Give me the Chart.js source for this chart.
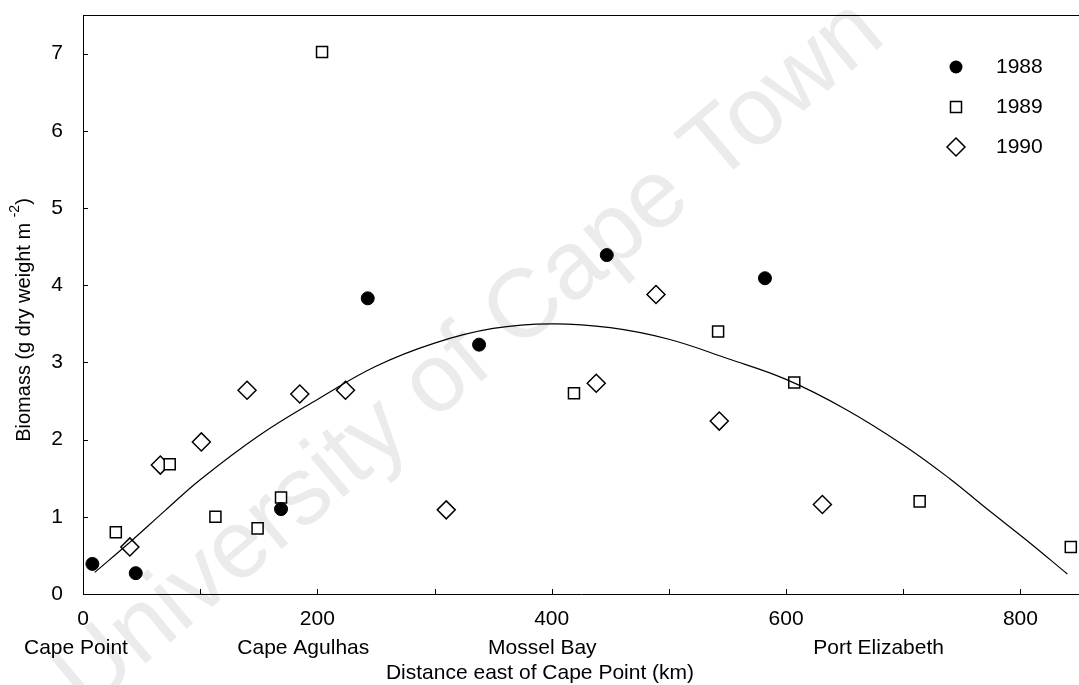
<!DOCTYPE html>
<html>
<head>
<meta charset="utf-8">
<script src="https://cdn.jsdelivr.net/npm/chart.js@4"></script>
<style>
  body { margin: 0; background: #fff; }
  #wrap { width: 1079px; height: 685px; }
</style>
</head>
<body>
<div id="wrap"><canvas id="myChart" width="1079" height="685"></canvas></div>
<script>
// distance east of Cape Point (km) and biomass (g dry weight m-2)
const km1988 = [8, 45, 169, 243, 338, 447, 582];
const bio1988 = [0.39, 0.27, 1.10, 3.83, 3.23, 4.39, 4.09];

const km1989 = [28, 74, 113, 149, 169, 204, 419, 542, 607, 714, 843];
const bio1989 = [0.80, 1.68, 1.00, 0.85, 1.25, 7.02, 2.60, 3.40, 2.74, 1.20, 0.61];

const km1990 = [40, 66, 101, 140, 185, 224, 310, 438, 489, 543, 631];
const bio1990 = [0.61, 1.67, 1.97, 2.64, 2.59, 2.64, 1.09, 2.73, 3.88, 2.24, 1.16];

// fitted curve
const kmFit = [10, 40, 70, 100, 150, 200, 250, 300, 350, 400, 450, 500, 550, 600, 650, 700, 740, 770, 805, 840];
const bioFit = [0.28, 0.67, 1.08, 1.48, 2.05, 2.52, 2.95, 3.25, 3.44, 3.5, 3.45, 3.3, 3.05, 2.78, 2.4, 1.93, 1.49, 1.12, 0.7, 0.26];

const xTickLabels = [0, 200, 400, 600, 800];
const placeNames = ["Cape Point", "Cape Agulhas", "Mossel Bay", "Port Elizabeth"];
const placeKm = [-6, 188, 392, 679];

const FONT = "'Liberation Sans', Arial, sans-serif";

function pts(xs, ys) {
  return xs.map((x, i) => ({ x: x, y: ys[i] }));
}

function drawMarker(ctx, style, x, y) {
  ctx.beginPath();
  if (style === "circle") {
    ctx.arc(x, y, 6.5, 0, Math.PI * 2);
    ctx.fillStyle = "#000";
    ctx.fill();
    return;
  }
  if (style === "rect") {
    ctx.rect(x - 5.5, y - 5.5, 11, 11);
  } else {
    ctx.moveTo(x, y - 9); ctx.lineTo(x + 9, y); ctx.lineTo(x, y + 9); ctx.lineTo(x - 9, y); ctx.closePath();
  }
  ctx.fillStyle = "#fff";
  ctx.fill();
  ctx.lineWidth = 1.5;
  ctx.strokeStyle = "#000";
  ctx.stroke();
}

const decor = {
  id: "decor",
  beforeDraw(chart) {
    const ctx = chart.ctx;
    ctx.save();
    ctx.fillStyle = "#fff";
    ctx.fillRect(0, 0, chart.width, chart.height);
    // watermark
    ctx.translate(470, 356);
    ctx.rotate(-40 * Math.PI / 180);
    ctx.font = "97px " + FONT;
    ctx.fillStyle = "#ebebeb";
    ctx.textAlign = "center";
    ctx.textBaseline = "middle";
    ctx.fillText("University of Cape Town", 0, 0);
    ctx.restore();
  },
  afterDraw(chart) {
    const ctx = chart.ctx, xs = chart.scales.x, ys = chart.scales.y, a = chart.chartArea;
    ctx.save();
    ctx.strokeStyle = "#000";
    ctx.lineWidth = 1;
    ctx.beginPath();
    // top frame line
    ctx.moveTo(a.left, a.top + 0.5);
    ctx.lineTo(a.right, a.top + 0.5);
    // inner ticks
    xs.ticks.forEach(t => {
      if (t.value % 100 !== 0) return;
      const px = Math.round(xs.getPixelForValue(t.value)) + 0.5;
      ctx.moveTo(px, a.bottom);
      ctx.lineTo(px, a.bottom - 5);
    });
    ys.ticks.forEach(t => {
      if (t.value % 1 !== 0) return;
      const py = Math.round(ys.getPixelForValue(t.value)) + 0.5;
      ctx.moveTo(a.left, py);
      ctx.lineTo(a.left + 5, py);
    });
    ctx.stroke();

    // place names
    ctx.fillStyle = "#000";
    ctx.font = "21px " + FONT;
    ctx.textAlign = "center";
    ctx.textBaseline = "middle";
    placeNames.forEach((n, i) => {
      ctx.fillText(n, xs.getPixelForValue(placeKm[i]), 648);
    });

    // x title
    ctx.font = "21px " + FONT;
    ctx.fillText("Distance east of Cape Point (km)", 540, 673);

    // y title with superscript
    ctx.save();
    ctx.translate(24, 320);
    ctx.rotate(-Math.PI / 2);
    const main = "Biomass (g dry weight m ";
    const sup = "-2";
    ctx.font = "20px " + FONT;
    const w1 = ctx.measureText(main).width;
    ctx.font = "14px " + FONT;
    const w2 = ctx.measureText(sup).width;
    ctx.font = "20px " + FONT;
    const w3 = ctx.measureText(")").width;
    const start = -(w1 + w2 + w3) / 2;
    ctx.textAlign = "left";
    ctx.fillText(main, start, 0);
    ctx.font = "14px " + FONT;
    ctx.fillText(sup, start + w1, -9);
    ctx.font = "20px " + FONT;
    ctx.fillText(")", start + w1 + w2, 0);
    ctx.restore();

    // legend
    const leg = chart.data.datasets.filter(d => d.label);
    leg.forEach((d, i) => {
      const ly = 67 + i * 40;
      drawMarker(ctx, d.pointStyle, 956, ly);
      ctx.fillStyle = "#000";
      ctx.font = "21px " + FONT;
      ctx.textAlign = "left";
      ctx.textBaseline = "middle";
      ctx.fillText(d.label, 996, ly);
    });
    ctx.restore();
  }
};

const config = {
  type: "scatter",
  data: {
    datasets: [
      {
        type: "line",
        data: pts(kmFit, bioFit),
        borderColor: "#000",
        borderWidth: 1.2,
        pointRadius: 0,
        tension: 0.4,
        fill: false
      },
      {
        label: "1988",
        data: pts(km1988, bio1988),
        pointStyle: "circle",
        pointRadius: 6.5,
        backgroundColor: "#000",
        borderColor: "#000",
        borderWidth: 1,
        clip: false
      },
      {
        label: "1989",
        data: pts(km1989, bio1989),
        pointStyle: "rect",
        pointRadius: 7.8,
        backgroundColor: "#fff",
        borderColor: "#000",
        borderWidth: 1.5,
        clip: false
      },
      {
        label: "1990",
        data: pts(km1990, bio1990),
        pointStyle: "rectRot",
        pointRadius: 9,
        backgroundColor: "#fff",
        borderColor: "#000",
        borderWidth: 1.5,
        clip: false
      }
    ]
  },
  options: {
    responsive: false,
    animation: false,
    events: [],
    layout: { autoPadding: false, padding: { top: 15, right: 0, left: 0, bottom: 0 } },
    plugins: {
      legend: { display: false },
      tooltip: { enabled: false }
    },
    scales: {
      x: {
        type: "linear",
        min: 0,
        max: 850,
        afterFit: s => { s.height = 91; s.paddingLeft = 0; s.paddingRight = 0; },
        grid: { display: false, drawTicks: false },
        border: { display: true, color: "#000", width: 1 },
        ticks: {
          stepSize: 100,
          autoSkip: false,
          maxRotation: 0,
          padding: 13,
          color: "#000",
          font: { family: FONT, size: 21 },
          callback: v => xTickLabels.includes(v) ? String(v) : ""
        }
      },
      y: {
        min: 0,
        max: 7.5,
        afterFit: s => { s.width = 83; s.paddingTop = 0; s.paddingBottom = 0; },
        grid: { display: false, drawTicks: false },
        border: { display: true, color: "#000", width: 1 },
        ticks: {
          stepSize: 1,
          padding: 20,
          color: "#000",
          font: { family: FONT, size: 21 },
          callback: v => v % 1 === 0 ? String(v) : ""
        }
      }
    }
  },
  plugins: [decor]
};

new Chart(document.getElementById("myChart"), config);
</script>
</body>
</html>
